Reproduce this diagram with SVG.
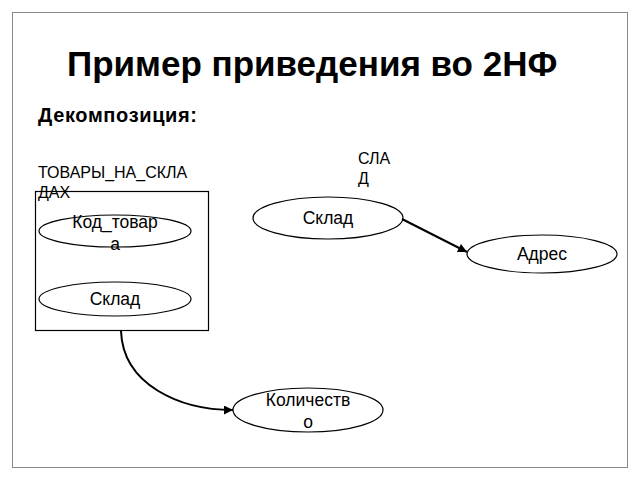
<svg xmlns="http://www.w3.org/2000/svg" width="640" height="480" viewBox="0 0 640 480">
<style>
.t{font-family:"Liberation Sans",Arial,sans-serif;fill:#000}
.lbl{font-size:16px}
.el{font-size:17.5px}
.node{fill:#fff;stroke:#000;stroke-width:1.2}
.edge{fill:none;stroke:#000;stroke-width:2}
</style>
<defs>
<marker id="ah" viewBox="0 0 10 10" refX="10" refY="5" markerWidth="13" markerHeight="9" markerUnits="userSpaceOnUse" orient="auto">
<path d="M0,0 L10,5 L0,10 z" fill="#000"/>
</marker>
</defs>
<rect x="0" y="0" width="640" height="480" fill="#fff"/>
<rect x="12.5" y="12.5" width="615" height="455" fill="#fff" stroke="#888" stroke-width="1"/>
<text class="t" x="67" y="76" font-size="35" font-weight="bold">Пример приведения во 2НФ</text>
<text class="t" x="38" y="122" font-size="20" font-weight="bold" textLength="159" lengthAdjust="spacing">Декомпозиция:</text>

<g id="tovary">
<rect x="35.5" y="191.5" width="173" height="139" fill="none" stroke="#000" stroke-width="1.2"/>
<text class="t lbl" x="38" y="178">ТОВАРЫ_НА_СКЛА</text>
<text class="t lbl" x="38" y="198">ДАХ</text>
</g>
<g id="kod">
<ellipse class="node" cx="115" cy="231" rx="76" ry="16"/>
<text class="t el" x="115" y="228" text-anchor="middle">Код_товар</text>
<text class="t el" x="115" y="250" text-anchor="middle">а</text>
</g>
<g id="sklad1">
<ellipse class="node" cx="115" cy="299" rx="76" ry="17"/>
<text class="t el" x="115" y="305" text-anchor="middle">Склад</text>
</g>
<g id="sklad2">
<ellipse class="node" cx="328" cy="218" rx="75" ry="21"/>
<text class="t el" x="328" y="224" text-anchor="middle">Склад</text>
<text class="t lbl" x="358" y="164">СЛА</text>
<text class="t lbl" x="358" y="184">Д</text>
</g>
<g id="adres">
<ellipse class="node" cx="542" cy="254" rx="75" ry="19"/>
<text class="t el" x="542" y="260" text-anchor="middle">Адрес</text>
</g>
<g id="kolichestvo">
<ellipse class="node" cx="308" cy="410" rx="75" ry="22"/>
<text class="t el" x="308" y="406" text-anchor="middle">Количеств</text>
<text class="t el" x="308" y="428" text-anchor="middle">о</text>
</g>
<g id="connectors">
<path class="edge" d="M402,219 L467,252" marker-end="url(#ah)"/>
<path class="edge" d="M121,331 C123,385 180,410 233,410" marker-end="url(#ah)"/>
</g>
</svg>
